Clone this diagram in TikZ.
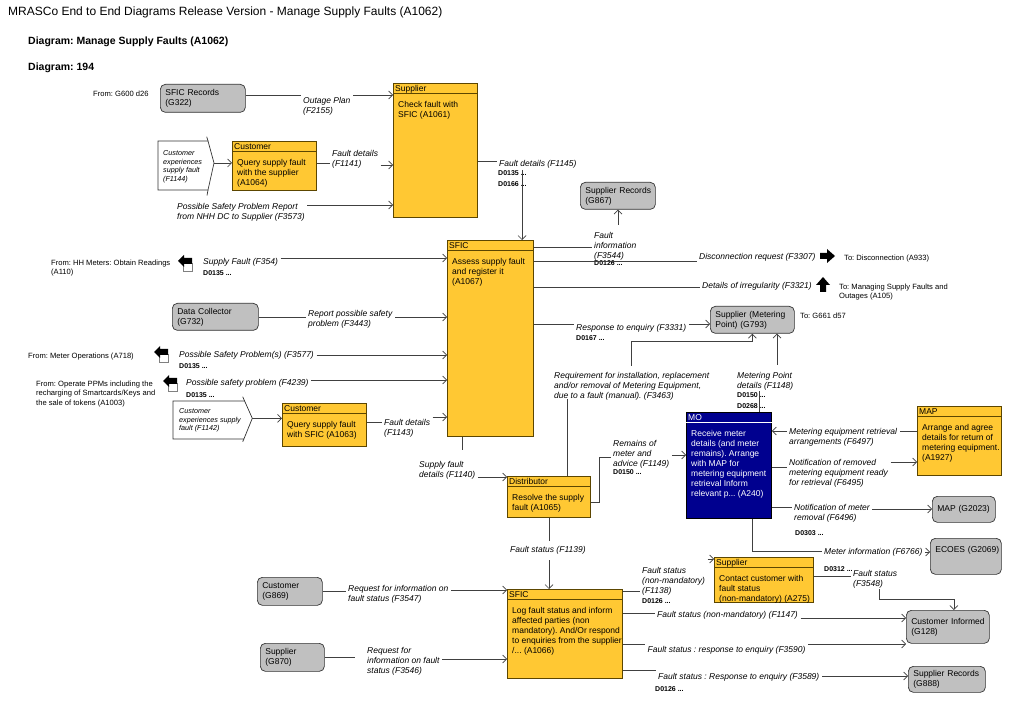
\documentclass[tikz,border=0pt]{standalone}
\usepackage{fontspec}
\setmainfont{Liberation Sans}
\usetikzlibrary{arrows.meta}
\hyphenpenalty=10000
\exhyphenpenalty=10000
\frenchspacing

\definecolor{actfill}{HTML}{FFC833}
\definecolor{actdraw}{HTML}{5C4600}
\definecolor{storefill}{HTML}{C0C0C0}
\definecolor{mofill}{HTML}{00008F}
\definecolor{flowgray}{HTML}{404040}

\newcommand{\boxfont}{\fontsize{8.5}{10}\selectfont}
\newcommand{\lblfont}{\fontsize{8.5}{10}\selectfont\itshape}
\newcommand{\evfont}{\fontsize{7.2}{8.6}\selectfont\itshape}
\newcommand{\reffont}{\fontsize{7}{8}\selectfont\bfseries}
\newcommand{\ftfont}{\fontsize{7.6}{9.3}\selectfont}

\tikzset{
  flow/.style={draw=flowgray, line width=0.7pt},
  flowarr/.style={flow, -{Straight Barb[length=4pt,width=8pt]}},
  act/.style={rectangle, line width=0.8pt, inner sep=0pt, anchor=north west},
  hdrline/.style={line width=0.7pt},
  yel box/.style={fill=actfill, draw=actdraw},
  yel line/.style={draw=actdraw},
  yel text/.style={text=black},
  blue box/.style={fill=mofill, draw=black},
  blue line/.style={draw=white},
  blue text/.style={text=white},
  roletxt/.style={font=\boxfont, anchor=base west, inner sep=0pt},
  acttxt/.style={font=\boxfont, align=left, anchor=north west, yshift=6.2pt, inner sep=0pt},
  store/.style={draw=black!80, fill=storefill, rounded corners=5pt, line width=0.7pt,
    inner xsep=5pt, inner ysep=0pt, align=left, anchor=north west, font=\boxfont},
  lbl/.style={font=\lblfont, align=left, anchor=north west, yshift=6.2pt, inner xsep=2.5pt, inner ysep=0pt},
  dref/.style={font=\reffont, anchor=base west, inner sep=0pt},
  fromto/.style={font=\ftfont, align=left, anchor=north west, yshift=5.6pt, inner sep=0pt},
  evt/.style={draw=black!80, fill=white, line width=0.7pt},
  evtxt/.style={font=\evfont, align=left, anchor=north west, yshift=5.3pt, inner sep=0pt},
  fromicon/.pic={
    \filldraw[draw=gray, fill=white, line width=0.5pt] (-2,0) rectangle (7,8);
    \fill[black] (-7,-2) -- (-1,-8) -- (-1,-5) -- (7,-5) -- (7,1) -- (-1,1) -- (-1,4) -- cycle;
  },
  toright/.pic={
    \fill[black] (-7,-3) -- (0,-3) -- (0,-7) -- (8,0) -- (0,7) -- (0,3) -- (-7,3) -- cycle;
  },
  toup/.pic={
    \fill[black] (-3,7) -- (-3,0) -- (-7,0) -- (0,-8) -- (7,0) -- (3,0) -- (3,7) -- cycle;
  },
}

% activity box: [kind]{name}{x}{y}{w}{h}{role}{text}
\newcommand{\actnode}[8][yel]{%
  \node[act,#1 box,minimum width=#5,minimum height=#6] (#2) at (#3,#4) {};
  \draw[hdrline,#1 line] ([yshift=-10pt]#2.north west) -- ([yshift=-10pt]#2.north east);
  \node[roletxt,#1 text] (#2-r) at ([xshift=2pt,yshift=-8.5pt]#2.north west) {#7};
  \node[acttxt,#1 text] (#2-t) at ([xshift=5pt,yshift=-24pt]#2.north west) {#8};
}

\begin{document}
\begin{tikzpicture}[x=1pt,y=-1pt]
\fill[white] (0,0) rectangle (1023,708);
\useasboundingbox (0,0) rectangle (1023,708);

% titles
\node[anchor=base west, inner sep=0pt, font=\fontsize{12}{14}\selectfont] (title) at (8,16)
  {MRASCo End to End Diagrams Release Version - Manage Supply Faults (A1062)};
\node[anchor=base west, inner sep=0pt, font=\fontsize{10.5}{12}\selectfont\bfseries] (diagname) at (28,45)
  {Diagram: Manage Supply Faults (A1062)};
\node[anchor=base west, inner sep=0pt, font=\fontsize{10.5}{12}\selectfont\bfseries] (diagno) at (28,71)
  {Diagram: 194};

% stores
\node[store, text width=75, minimum height=28] (sr322) at (160,84) {SFIC~Records\\(G322)};
\node[store, text width=65, minimum height=27] (sr867) at (580,182) {Supplier~Records\\(G867)};
\node[store, text width=76, minimum height=27] (dc732) at (172,303) {Data~Collector\\(G732)};
\node[store, text width=74, minimum height=27] (smp793) at (710,306) {Supplier~(Metering\\Point)~(G793)};
\node[store, text width=53, minimum height=26] (map2023) at (932,496) {MAP~(G2023)};
\node[store, text width=61, minimum height=36] (ecoes) at (930,538) {ECOES~(G2069)\\\strut};
\node[store, text width=55, minimum height=28] (cus869) at (257,577) {Customer\\(G869)};
\node[store, text width=54, minimum height=28] (sup870) at (260,643) {Supplier\\(G870)};
\node[store, text width=73, minimum height=33] (ci128) at (906,610) {Customer~Informed\\(G128)};
\node[store, text width=67, minimum height=26] (sr888) at (908,666) {Supplier~Records\\(G888)};

% activities
\actnode{sup1061}{393}{83}{84}{134}{Supplier}{Check fault with\\SFIC (A1061)}
\actnode{cus1064}{232}{141}{84}{49}{Customer}{Query supply fault\\with the supplier\\(A1064)}
\actnode{sfic1067}{447}{240}{86}{196}{SFIC}{Assess supply fault\\and register it\\(A1067)}
\actnode{cus1063}{282}{403}{84}{43}{Customer}{Query supply fault\\with SFIC (A1063)}
\actnode{dis1065}{507}{476}{83}{41}{Distributor}{Resolve the supply\\fault (A1065)}
\actnode[blue]{mo240}{686}{412}{85}{106}{MO}{Receive meter\\details (and meter\\remains). Arrange\\with MAP for\\metering equipment\\retrieval Inform\\relevant p... (A240)}
\actnode{map1927}{917}{406}{84}{69}{MAP}{Arrange and agree\\details for return of\\metering equipment.\\(A1927)}
\actnode{sfic1066}{507}{589}{115}{89}{SFIC}{Log fault status and inform\\affected parties (non\\mandatory). And/Or respond\\to enquiries from the supplier\\/... (A1066)}
\actnode{sup275}{714}{557}{99}{45}{Supplier}{Contact customer with\\fault status\\(non-mandatory) (A275)}

% events
\filldraw[evt] (158,141) -- (208,141) -- (214,163) -- (208,190) -- (158,190) -- cycle;
\draw[evt] (206.7,136.7) -- (208,141) (208,190) -- (207,195.5);
\coordinate (ev1144) at (214,163);
\node[evtxt] (ev1144t) at (163,155.5) {Customer\\experiences\\supply fault\\(F1144)};

\filldraw[evt] (173,401) -- (244.6,401) -- (252.3,418.3) -- (243.9,439) -- (173,439) -- cycle;
\draw[evt] (242.7,396.7) -- (244.6,401) (243.9,439) -- (242.7,441.7);
\coordinate (ev1142) at (252.3,418.3);
\node[evtxt] (ev1142t) at (179,413.5) {Customer\\experiences supply\\fault (F1142)};

% off-page references
\pic at (185,263) {fromicon};
\node[fromto] (fromhh) at (51,265.5) {From: HH Meters: Obtain Readings\\(A110)};
\pic at (161,354) {fromicon};
\node[fromto] (frommo) at (28,358) {From: Meter Operations (A718)};
\pic at (170,383) {fromicon};
\node[fromto] (fromppm) at (36,386.5) {From: Operate PPMs including the\\recharging of Smartcards/Keys and\\the sale of tokens (A1003)};
\node[fromto] (fromg600) at (93,96.5) {From: G600 d26};
\pic at (827,256) {toright};
\node[fromto] (todisc) at (844,260.5) {To: Disconnection (A933)};
\pic at (823,285) {toup};
\node[fromto] (tomsf) at (839,289.5) {To: Managing Supply Faults and\\Outages (A105)};
\node[fromto] (tog661) at (800,318.5) {To: G661 d57};

% flow labels
\node[lbl] (op2155) at (300.5,103) {Outage Plan\\(F2155)};
\node[lbl] (fd1141) at (329.5,156) {Fault details\\(F1141)};
\node[lbl] (psp3573) at (174.5,209) {Possible Safety Problem Report\\from NHH DC to Supplier (F3573)};
\node[lbl] (fd1145) at (496.5,166) {Fault details (F1145)};
\node[dref] (fd1145a) at (498,176) {D0135 ...};
\node[dref] (fd1145b) at (498,187) {D0166 ...};
\node[lbl] (sf354) at (200.5,264) {Supply Fault (F354)};
\node[dref] (sf354a) at (203,276) {D0135 ...};
\node[lbl] (rp3443) at (305.5,316) {Report possible safety\\problem (F3443)};
\node[lbl] (psp3577) at (176.5,357) {Possible Safety Problem(s) (F3577)};
\node[dref] (psp3577a) at (179,369) {D0135 ...};
\node[lbl] (psp4239) at (183.5,385) {Possible safety problem (F4239)};
\node[dref] (psp4239a) at (186,398) {D0135 ...};
\node[lbl] (fd1143) at (381.5,425) {Fault details\\(F1143)};
\node[lbl] (sfd1140) at (416.5,467) {Supply fault\\details (F1140)};
\node[lbl] (fi3544) at (591.5,238) {Fault\\information\\(F3544)};
\node[dref] (fi3544a) at (594,266) {D0126 ...};
\node[lbl] (dr3307) at (696.5,259) {Disconnection request (F3307)};
\node[lbl] (di3321) at (699.5,288) {Details of irregularity (F3321)};
\node[lbl] (re3331) at (573.5,330) {Response to enquiry (F3331)};
\node[dref] (re3331a) at (576,341) {D0167 ...};
\node[lbl] (ri3463) at (551.5,378) {Requirement for installation, replacement\\and/or removal of Metering Equipment,\\due to a fault (manual). (F3463)};
\node[lbl] (mpd1148) at (734.5,378) {Metering Point\\details (F1148)};
\node[dref] (mpd1148a) at (737,398) {D0150 ...};
\node[dref] (mpd1148b) at (737,409) {D0268 ...};
\node[lbl] (rm1149) at (610.5,446) {Remains of\\meter and\\advice (F1149)};
\node[dref] (rm1149a) at (613,475) {D0150 ...};
\node[lbl] (mer6497) at (786.5,434) {Metering equipment retrieval\\arrangements (F6497)};
\node[lbl] (nr6495) at (786.5,465) {Notification of removed\\metering equipment ready\\for retrieval (F6495)};
\node[lbl] (nm6496) at (791.5,510) {Notification of meter\\removal (F6496)};
\node[dref] (nm6496a) at (795,535) {D0303 ...};
\node[lbl] (mi6766) at (821.5,554) {Meter information (F6766)};
\node[dref] (mi6766a) at (824,571) {D0312 ...};
\node[lbl] (fs1139) at (507.5,552) {Fault status (F1139)};
\node[lbl] (ri3547) at (345.5,591) {Request for information on\\fault status (F3547)};
\node[lbl] (ri3546) at (364.5,653) {Request for\\information on fault\\status (F3546)};
\node[lbl] (fs1138) at (639.5,573) {Fault status\\(non-mandatory)\\(F1138)};
\node[dref] (fs1138a) at (642,603) {D0126 ...};
\node[lbl] (fs3548) at (850.5,576) {Fault status\\(F3548)};
\node[lbl] (fs1147) at (654.5,617) {Fault status (non-mandatory) (F1147)};
\node[lbl] (fs3590) at (645,652) {Fault status : response to enquiry (F3590)};
\node[lbl] (fs3589) at (655.5,679) {Fault status : Response to enquiry (F3589)};
\node[dref] (fs3589a) at (655,691) {D0126 ...};

% bend points
\coordinate (fd1145d) at (522,170);
\coordinate (sfd1140u) at (462,450);
\coordinate (fi3544u) at (618,225);
\coordinate (ri3463d) at (567,399);
\coordinate (ri3463u) at (631,366);
\coordinate (mpd1148d) at (759,391);
\coordinate (mpd1148u) at (777,365);
\coordinate (mi6766c) at (752,551);
\coordinate (fs1139u) at (549,541);
\coordinate (fs1139d) at (549,560);
\coordinate (fs3548d) at (879,589);

% flows into Supplier (A1061)
\draw[flow] (sr322.east |- 0,95) -- (op2155.west |- 0,95);
\draw[flowarr] (op2155.east |- 0,95) -- (sup1061.west |- 0,95);
\draw[flowarr] (ev1144) -- (cus1064.west |- ev1144);
\draw[flow] (cus1064.east |- 0,163) -- (fd1141.west |- 0,163);
\draw[flowarr] (fd1141.east |- 0,165) -- (sup1061.west |- 0,165);
\draw[flowarr] (psp3573.east |- 0,205) -- (sup1061.west |- 0,205);

% flows into SFIC (A1067)
\draw[flow] (sup1061.east |- 0,161) -- (fd1145.west |- 0,161);
\draw[flowarr] (fd1145d) -- (sfic1067.north -| fd1145d);
\draw[flowarr] (sf354.east |- 0,258) -- (sfic1067.west |- 0,258);
\draw[flow] (dc732.east |- 0,317) -- (rp3443.west |- 0,317);
\draw[flowarr] (rp3443.east |- 0,317) -- (sfic1067.west |- 0,317);
\draw[flowarr] (psp3577.east |- 0,355) -- (sfic1067.west |- 0,355);
\draw[flowarr] (psp4239.east |- 0,380) -- (sfic1067.west |- 0,380);
\draw[flowarr] (ev1142) -- (cus1063.west |- ev1142);
\draw[flow] (cus1063.east |- 0,422) -- (fd1143.west |- 0,422);
\draw[flowarr] (fd1143.east |- 0,417) -- (sfic1067.west |- 0,417);

% flows out of SFIC (A1067)
\draw[flow] (sfic1067.south -| sfd1140u) -- (sfd1140u);
\draw[flowarr] (sfd1140.east |- 0,477) -- (dis1065.west |- 0,477);
\draw[flow] (sfic1067.east |- 0,247) -- (fi3544.west |- 0,247);
\draw[flowarr] (fi3544u) -- (sr867.south -| fi3544u);
\draw[flow] (sfic1067.east |- 0,261) -- (dr3307.west |- 0,261);
\draw[flow] (sfic1067.east |- 0,287) -- (di3321.west |- 0,287);
\draw[flow] (sfic1067.east |- 0,324) -- (re3331.west |- 0,324);
\draw[flowarr] (re3331.east |- 0,324) -- (smp793.west |- 0,324);

% Distributor (A1065) and MO (A240)
\draw[flow] (dis1065.north -| ri3463d) -- (ri3463d);
\draw[flowarr] (ri3463u) |- ([yshift=-8pt]smp793.south) -- (smp793.south);
\draw[flow] (mo240.north -| mpd1148d) -- (mpd1148d);
\draw[flowarr] (mpd1148u) -- (smp793.south -| mpd1148u);
\draw[flow] (dis1065.east |- 0,502) -- ++(9,0) |- (rm1149.west |- 0,457);
\draw[flowarr] (rm1149.east |- 0,455) -- (mo240.west |- 0,455);
\draw[flow] (map1927.west |- 0,431) -- (mer6497.east |- 0,431);
\draw[flowarr] (mer6497.west |- 0,431) -- (mo240.east |- 0,431);
\draw[flow] (mo240.east |- 0,467) -- (nr6495.west |- 0,467);
\draw[flowarr] (nr6495.east |- 0,462) -- (map1927.west |- 0,462);
\draw[flow] (mo240.east |- 0,507) -- (nm6496.west |- 0,507);
\draw[flowarr] (nm6496.east |- 0,509) -- (map2023.west |- 0,509);
\draw[flow] (mo240.south -| mi6766c) -- (mi6766c) -- (mi6766.west |- mi6766c);
\draw[flowarr] (mi6766.east |- 0,552) -- (ecoes.west |- 0,552);

% flows round SFIC (A1066)
\draw[flow] (dis1065.south -| fs1139u) -- (fs1139u);
\draw[flowarr] (fs1139d) -- (sfic1066.north -| fs1139d);
\draw[flow] (cus869.east |- 0,591) -- (ri3547.west |- 0,591);
\draw[flowarr] (ri3547.east |- 0,590) -- (sfic1066.west |- 0,590);
\draw[flow] (sup870.east |- 0,657) -- ([xshift=-10pt]ri3546.west |- 0,657);
\draw[flowarr] (ri3546.east |- 0,659) -- (sfic1066.west |- 0,659);
\draw[flow] (sfic1066.east |- 0,591) -- (fs1138.west |- 0,591);
\draw[flowarr] (fs1138.east |- 0,559) -- (sup275.west |- 0,559);
\draw[flow] (sup275.east |- 0,576) -- (fs3548.west |- 0,576);
\draw[flowarr] (fs3548d) |- ([xshift=6pt,yshift=11pt]ci128.north) -- ([xshift=6pt]ci128.north);
\draw[flow] (sfic1066.east |- 0,613) -- (fs1147.west |- 0,613);
\draw[flowarr] (fs1147.east |- 0,618) -- (ci128.west |- 0,618);
\draw[flow] (sfic1066.east |- 0,644) -- (fs3590.west |- 0,644);
\draw[flowarr] (fs3590.east |- 0,644) -- (ci128.west |- 0,644);
\draw[flow] (sfic1066.east |- 0,670) -- (fs3589.west |- 0,670);
\draw[flowarr] (fs3589.east |- 0,676) -- (sr888.west |- 0,676);
\end{tikzpicture}
\end{document}
